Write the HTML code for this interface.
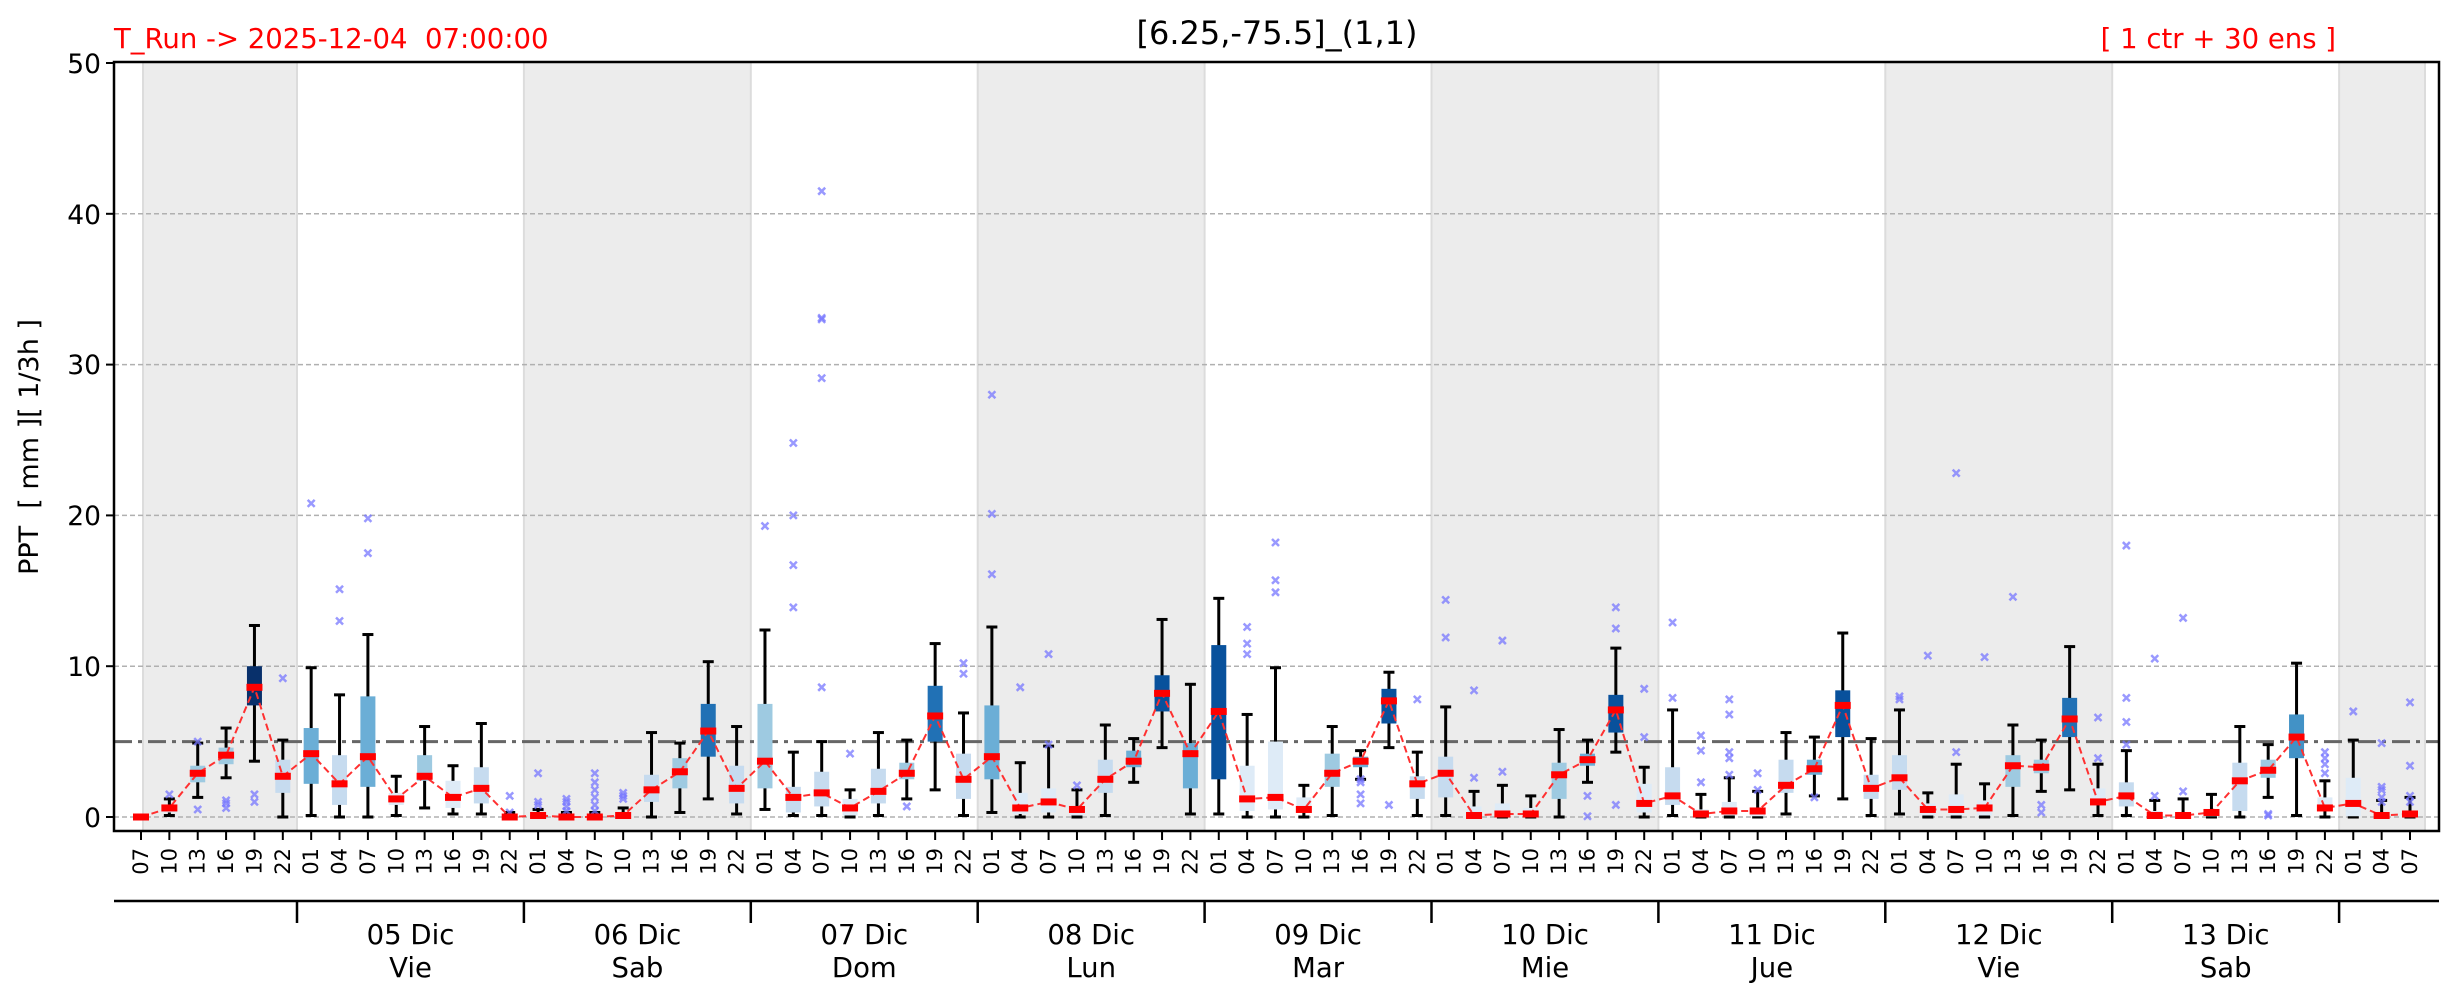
<!DOCTYPE html>
<html><head><meta charset="utf-8"><style>
html,body{margin:0;padding:0;background:#fff;}
svg{display:block;font-family:"DejaVu Sans","Liberation Sans",sans-serif;}
</style></head><body>
<svg id="s" width="2459" height="1001" viewBox="0 0 2459 1001" xmlns="http://www.w3.org/2000/svg">
<rect width="2459" height="1001" fill="#fff"/>
<g fill="#ececec">
<rect x="143" y="62" width="154" height="769"/>
<rect x="523.9" y="62" width="226.9" height="769"/>
<rect x="977.7" y="62" width="226.9" height="769"/>
<rect x="1431.5" y="62" width="226.9" height="769"/>
<rect x="1885.3" y="62" width="226.9" height="769"/>
<rect x="2339.1" y="62" width="86" height="769"/>
</g>
<g stroke="#dcdcdc" stroke-width="2">
<line x1="143" y1="62" x2="143" y2="831"/><line x1="297" y1="62" x2="297" y2="831"/>
<line x1="523.9" y1="62" x2="523.9" y2="831"/><line x1="750.8" y1="62" x2="750.8" y2="831"/>
<line x1="977.7" y1="62" x2="977.7" y2="831"/><line x1="1204.6" y1="62" x2="1204.6" y2="831"/>
<line x1="1431.5" y1="62" x2="1431.5" y2="831"/><line x1="1658.4" y1="62" x2="1658.4" y2="831"/>
<line x1="1885.3" y1="62" x2="1885.3" y2="831"/><line x1="2112.2" y1="62" x2="2112.2" y2="831"/>
<line x1="2339.1" y1="62" x2="2339.1" y2="831"/><line x1="2425" y1="62" x2="2425" y2="831"/>
</g>
<g stroke="#b0b0b0" stroke-width="1.5" stroke-dasharray="5,3">
<line x1="114" y1="817" x2="2439" y2="817"/>
<line x1="114" y1="666.2" x2="2439" y2="666.2"/>
<line x1="114" y1="515.4" x2="2439" y2="515.4"/>
<line x1="114" y1="364.6" x2="2439" y2="364.6"/>
<line x1="114" y1="213.8" x2="2439" y2="213.8"/>
</g>
<line x1="114" y1="741.6" x2="2439" y2="741.6" stroke="#666" stroke-width="3" stroke-dasharray="18,6,4,6"/>
<g id="boxes"></g>
<rect x="114" y="62" width="2325" height="769" fill="none" stroke="#000" stroke-width="2.5"/>
<g stroke="#000" stroke-width="2">
<line x1="106" y1="817" x2="114" y2="817"/><line x1="106" y1="666.2" x2="114" y2="666.2"/>
<line x1="106" y1="515.4" x2="114" y2="515.4"/><line x1="106" y1="364.6" x2="114" y2="364.6"/>
<line x1="106" y1="213.8" x2="114" y2="213.8"/><line x1="106" y1="63" x2="114" y2="63"/>
</g>
<g font-size="26.5" text-anchor="end" fill="#000">
<text x="101" y="827">0</text><text x="101" y="676">10</text><text x="101" y="525">20</text>
<text x="101" y="374">30</text><text x="101" y="224">40</text><text x="101" y="73">50</text>
</g>
<text transform="translate(38,447) rotate(-90)" text-anchor="middle" font-size="27">PPT &#160;[ mm ][ 1/3h ]</text>
<text x="1277" y="44" text-anchor="middle" font-size="32">[6.25,-75.5]_(1,1)</text>
<text x="114" y="48" font-size="27.5" fill="#ff0000">T_Run -&gt; 2025-12-04 &#160;07:00:00</text>
<text x="2336" y="48" text-anchor="end" font-size="27.5" fill="#ff0000">[ 1 ctr + 30 ens ]</text>
<g id="ticks" stroke="#000" stroke-width="2"></g>
<g font-size="21" text-anchor="end" dominant-baseline="central">
<text transform="translate(141,848) rotate(-90)">07</text><text transform="translate(169.4,848) rotate(-90)">10</text><text transform="translate(197.7,848) rotate(-90)">13</text><text transform="translate(226.1,848) rotate(-90)">16</text><text transform="translate(254.5,848) rotate(-90)">19</text><text transform="translate(282.8,848) rotate(-90)">22</text>
<text transform="translate(311.2,848) rotate(-90)">01</text><text transform="translate(339.5,848) rotate(-90)">04</text><text transform="translate(367.9,848) rotate(-90)">07</text><text transform="translate(396.3,848) rotate(-90)">10</text><text transform="translate(424.6,848) rotate(-90)">13</text><text transform="translate(453,848) rotate(-90)">16</text><text transform="translate(481.4,848) rotate(-90)">19</text><text transform="translate(509.7,848) rotate(-90)">22</text>
<text transform="translate(538.1,848) rotate(-90)">01</text><text transform="translate(566.4,848) rotate(-90)">04</text><text transform="translate(594.8,848) rotate(-90)">07</text><text transform="translate(623.2,848) rotate(-90)">10</text><text transform="translate(651.5,848) rotate(-90)">13</text><text transform="translate(679.9,848) rotate(-90)">16</text><text transform="translate(708.3,848) rotate(-90)">19</text><text transform="translate(736.6,848) rotate(-90)">22</text>
<text transform="translate(765,848) rotate(-90)">01</text><text transform="translate(793.3,848) rotate(-90)">04</text><text transform="translate(821.7,848) rotate(-90)">07</text><text transform="translate(850.1,848) rotate(-90)">10</text><text transform="translate(878.4,848) rotate(-90)">13</text><text transform="translate(906.8,848) rotate(-90)">16</text><text transform="translate(935.2,848) rotate(-90)">19</text><text transform="translate(963.5,848) rotate(-90)">22</text>
<text transform="translate(991.9,848) rotate(-90)">01</text><text transform="translate(1020.2,848) rotate(-90)">04</text><text transform="translate(1048.6,848) rotate(-90)">07</text><text transform="translate(1077,848) rotate(-90)">10</text><text transform="translate(1105.3,848) rotate(-90)">13</text><text transform="translate(1133.7,848) rotate(-90)">16</text><text transform="translate(1162.1,848) rotate(-90)">19</text><text transform="translate(1190.4,848) rotate(-90)">22</text>
<text transform="translate(1218.8,848) rotate(-90)">01</text><text transform="translate(1247.1,848) rotate(-90)">04</text><text transform="translate(1275.5,848) rotate(-90)">07</text><text transform="translate(1303.9,848) rotate(-90)">10</text><text transform="translate(1332.2,848) rotate(-90)">13</text><text transform="translate(1360.6,848) rotate(-90)">16</text><text transform="translate(1389,848) rotate(-90)">19</text><text transform="translate(1417.3,848) rotate(-90)">22</text>
<text transform="translate(1445.7,848) rotate(-90)">01</text><text transform="translate(1474,848) rotate(-90)">04</text><text transform="translate(1502.4,848) rotate(-90)">07</text><text transform="translate(1530.8,848) rotate(-90)">10</text><text transform="translate(1559.1,848) rotate(-90)">13</text><text transform="translate(1587.5,848) rotate(-90)">16</text><text transform="translate(1615.9,848) rotate(-90)">19</text><text transform="translate(1644.2,848) rotate(-90)">22</text>
<text transform="translate(1672.6,848) rotate(-90)">01</text><text transform="translate(1700.9,848) rotate(-90)">04</text><text transform="translate(1729.3,848) rotate(-90)">07</text><text transform="translate(1757.7,848) rotate(-90)">10</text><text transform="translate(1786,848) rotate(-90)">13</text><text transform="translate(1814.4,848) rotate(-90)">16</text><text transform="translate(1842.8,848) rotate(-90)">19</text><text transform="translate(1871.1,848) rotate(-90)">22</text>
<text transform="translate(1899.5,848) rotate(-90)">01</text><text transform="translate(1927.8,848) rotate(-90)">04</text><text transform="translate(1956.2,848) rotate(-90)">07</text><text transform="translate(1984.6,848) rotate(-90)">10</text><text transform="translate(2012.9,848) rotate(-90)">13</text><text transform="translate(2041.3,848) rotate(-90)">16</text><text transform="translate(2069.7,848) rotate(-90)">19</text><text transform="translate(2098,848) rotate(-90)">22</text>
<text transform="translate(2126.4,848) rotate(-90)">01</text><text transform="translate(2154.7,848) rotate(-90)">04</text><text transform="translate(2183.1,848) rotate(-90)">07</text><text transform="translate(2211.5,848) rotate(-90)">10</text><text transform="translate(2239.8,848) rotate(-90)">13</text><text transform="translate(2268.2,848) rotate(-90)">16</text><text transform="translate(2296.6,848) rotate(-90)">19</text><text transform="translate(2324.9,848) rotate(-90)">22</text>
<text transform="translate(2353.3,848) rotate(-90)">01</text><text transform="translate(2381.6,848) rotate(-90)">04</text><text transform="translate(2410,848) rotate(-90)">07</text>
</g>
<line x1="114" y1="901" x2="2439" y2="901" stroke="#000" stroke-width="2.5"/>
<g stroke="#000" stroke-width="2.5">
<line x1="297" y1="901" x2="297" y2="923"/><line x1="523.9" y1="901" x2="523.9" y2="923"/>
<line x1="750.8" y1="901" x2="750.8" y2="923"/><line x1="977.7" y1="901" x2="977.7" y2="923"/>
<line x1="1204.6" y1="901" x2="1204.6" y2="923"/><line x1="1431.5" y1="901" x2="1431.5" y2="923"/>
<line x1="1658.4" y1="901" x2="1658.4" y2="923"/><line x1="1885.3" y1="901" x2="1885.3" y2="923"/>
<line x1="2112.2" y1="901" x2="2112.2" y2="923"/><line x1="2339.1" y1="901" x2="2339.1" y2="923"/>
</g>
<g font-size="27.5" text-anchor="middle">
<text x="410.5" y="944">05 Dic</text><text x="410.5" y="977">Vie</text>
<text x="637.4" y="944">06 Dic</text><text x="637.4" y="977">Sab</text>
<text x="864.3" y="944">07 Dic</text><text x="864.3" y="977">Dom</text>
<text x="1091.2" y="944">08 Dic</text><text x="1091.2" y="977">Lun</text>
<text x="1318.1" y="944">09 Dic</text><text x="1318.1" y="977">Mar</text>
<text x="1545" y="944">10 Dic</text><text x="1545" y="977">Mie</text>
<text x="1771.9" y="944">11 Dic</text><text x="1771.9" y="977">Jue</text>
<text x="1998.8" y="944">12 Dic</text><text x="1998.8" y="977">Vie</text>
<text x="2225.7" y="944">13 Dic</text><text x="2225.7" y="977">Sab</text>
</g>
</svg>
<script>
var VL="#deebf7",L="#c6dbef",LM="#9ecae1",M="#6baed6",M2="#4292c6",D="#2171b5",DD="#08519c",N="#08306b";
var d=[
[0,0,0,0,0,VL,[]],
[0.1,0.3,0.6,0.8,1.2,VL,[1.5]],
[1.3,2.3,2.9,3.4,4.9,LM,[0.5,5.0]],
[2.6,3.5,4.1,4.6,5.9,LM,[0.6,0.9,1.1]],
[3.7,7.4,8.6,10.0,12.7,N,[1.0,1.5]],
[0,1.6,2.7,3.8,5.1,L,[9.2]],
[0.1,2.2,4.2,5.9,9.9,M,[20.8]],
[0,0.8,2.2,4.1,8.1,L,[13.0,15.1]],
[0,2.0,4.0,8.0,12.1,M,[17.5,19.8]],
[0.1,0.8,1.2,1.6,2.7,VL,[]],
[0.6,2.4,2.7,4.1,6.0,LM,[]],
[0.2,0.6,1.3,2.4,3.4,VL,[]],
[0.2,0.9,1.9,3.3,6.2,L,[]],
[0,0,0,0.1,0.3,VL,[0.3,1.4]],
[0,0,0.1,0.2,0.5,VL,[0.8,1.0,2.9]],
[0,0,0,0.1,0.3,VL,[0.4,0.7,1.0,1.2]],
[0,0,0,0.1,0.3,VL,[0.4,0.8,1.3,1.8,2.3,2.9]],
[0,0,0.1,0.2,0.6,VL,[1.2,1.4,1.6]],
[0,1.0,1.8,2.8,5.6,L,[]],
[0.3,1.9,3.0,3.9,4.9,LM,[]],
[1.2,4.0,5.7,7.5,10.3,D,[]],
[0.2,0.9,1.9,3.4,6.0,L,[]],
[0.5,1.9,3.7,7.5,12.4,LM,[19.3]],
[0.1,0.3,1.3,2.0,4.3,L,[13.9,16.7,20.0,24.8]],
[0.1,0.7,1.6,3.0,5.0,L,[8.6,29.1,33.0,33.1,41.5]],
[0,0.1,0.6,1.2,1.8,VL,[4.2]],
[0.1,0.9,1.7,3.2,5.6,L,[]],
[1.2,2.5,2.9,3.6,5.1,LM,[0.7]],
[1.8,5.0,6.7,8.7,11.5,D,[]],
[0.1,1.2,2.5,4.2,6.9,L,[9.5,10.2]],
[0.3,2.5,4.0,7.4,12.6,M,[16.1,20.1,28.0]],
[0,0.2,0.6,1.6,3.6,VL,[8.6]],
[0,0.3,1.0,1.9,4.7,VL,[4.8,10.8]],
[0,0.1,0.5,0.7,1.8,VL,[2.1]],
[0.1,1.6,2.5,3.8,6.1,L,[]],
[2.3,3.3,3.7,4.4,5.2,M,[]],
[4.6,7.0,8.2,9.4,13.1,DD,[]],
[0.2,1.9,4.2,4.9,8.8,M,[]],
[0.2,2.5,7.0,11.4,14.5,DD,[]],
[0,0.4,1.2,3.4,6.8,VL,[10.8,11.5,12.6]],
[0,0.5,1.3,5.0,9.9,VL,[14.9,15.7,18.2]],
[0,0.3,0.5,1.3,2.1,VL,[]],
[0.1,2.0,2.9,4.2,6.0,LM,[]],
[2.5,3.3,3.7,4.0,4.4,M,[0.9,1.5,2.3,2.5]],
[4.6,6.2,7.7,8.5,9.6,DD,[0.8]],
[0.1,1.2,2.2,2.7,4.3,L,[7.8]],
[0.1,1.3,2.9,4.0,7.3,L,[11.9,14.4]],
[0,0.05,0.1,0.7,1.7,VL,[2.6,8.4]],
[0,0.05,0.2,0.9,2.1,VL,[3.0,11.7]],
[0,0.05,0.2,0.6,1.4,VL,[]],
[0,1.2,2.8,3.6,5.8,LM,[]],
[2.3,3.4,3.8,4.2,5.1,M,[0.05,1.4]],
[4.3,5.6,7.1,8.1,11.2,DD,[0.8,12.5,13.9]],
[0,0.3,0.9,2.2,3.3,VL,[5.3,8.5]],
[0.1,0.8,1.4,3.3,7.1,L,[7.9,12.9]],
[0,0.05,0.2,0.5,1.5,VL,[2.3,4.4,5.4]],
[0,0.1,0.4,1.0,2.6,VL,[2.8,3.9,4.3,6.8,7.8]],
[0,0.05,0.4,0.6,1.7,VL,[1.8,2.9]],
[0.2,1.6,2.1,3.8,5.6,L,[]],
[1.4,2.8,3.2,3.8,5.3,M,[1.3]],
[1.2,5.3,7.4,8.4,12.2,DD,[]],
[0.1,1.2,1.9,2.8,5.2,L,[]],
[0.2,1.8,2.6,4.1,7.1,L,[7.8,8.0]],
[0,0.1,0.5,0.9,1.6,VL,[10.7]],
[0,0.1,0.5,1.5,3.5,VL,[4.3,22.8]],
[0,0.1,0.6,1.1,2.2,VL,[10.6]],
[0.1,2.0,3.4,4.1,6.1,LM,[14.6]],
[1.7,2.9,3.3,3.8,5.1,LM,[0.3,0.8]],
[1.8,5.3,6.5,7.9,11.3,D,[]],
[0.1,0.8,1.0,1.9,3.5,VL,[3.9,6.6]],
[0.1,0.7,1.4,2.3,4.4,L,[4.8,6.3,7.9,18.0]],
[0,0.05,0.1,0.4,1.1,VL,[1.4,10.5]],
[0,0.05,0.1,0.3,1.2,VL,[1.7,13.2]],
[0,0.05,0.3,0.5,1.5,VL,[]],
[0,0.4,2.4,3.6,6.0,L,[]],
[1.3,2.6,3.1,3.8,4.8,LM,[0.1,0.2]],
[0.1,3.9,5.3,6.8,10.2,M2,[]],
[0,0.4,0.6,1.3,2.4,VL,[2.9,3.5,3.9,4.3]],
[0,0.05,0.9,2.6,5.1,VL,[7.0]],
[0,0,0.1,0.3,1.1,VL,[1.0,1.3,1.8,2.0,4.9]],
[0,0,0.2,0.4,1.3,VL,[1.0,1.4,3.4,7.6]]
];
function y(v){return 817-15.08*v;}
function X(i){return 141+28.3625*i;}
var g=document.getElementById("boxes"),h="";
var pts=[];
d.forEach(function(b,i){
 var x=X(i),bw=15,cw=11;
 h+='<line x1="'+x+'" y1="'+y(b[0])+'" x2="'+x+'" y2="'+y(b[4])+'" stroke="#000" stroke-width="3"/>';
 h+='<line x1="'+(x-cw/2)+'" y1="'+y(b[0])+'" x2="'+(x+cw/2)+'" y2="'+y(b[0])+'" stroke="#000" stroke-width="3"/>';
 h+='<line x1="'+(x-cw/2)+'" y1="'+y(b[4])+'" x2="'+(x+cw/2)+'" y2="'+y(b[4])+'" stroke="#000" stroke-width="3"/>';
 var t=y(b[3]),bt=y(b[1]);
 h+='<rect x="'+(x-bw/2)+'" y="'+t+'" width="'+bw+'" height="'+Math.max(bt-t,1)+'" fill="'+b[5]+'"/>';
 b[6].forEach(function(o){var oy=y(o);
  h+='<path d="M'+(x-3.5)+' '+(oy-3.5)+'L'+(x+3.5)+' '+(oy+3.5)+'M'+(x-3.5)+' '+(oy+3.5)+'L'+(x+3.5)+' '+(oy-3.5)+'" stroke="#7777ff" stroke-opacity="0.75" stroke-width="2.5"/>';});
 pts.push(x+','+y(b[2]));
});
h+='<polyline points="'+pts.join(' ')+'" fill="none" stroke="#ff3030" stroke-width="2" stroke-dasharray="7,4"/>';
d.forEach(function(b,i){var x=X(i);
 h+='<rect x="'+(x-8)+'" y="'+(y(b[2])-3.5)+'" width="16" height="7" fill="#ff0000"/>';});
g.innerHTML=h;
var tk="";for(var i=0;i<81;i++){tk+='<line x1="'+X(i)+'" y1="831" x2="'+X(i)+'" y2="840"/>';}
document.getElementById("ticks").innerHTML=tk;
</script>
</body></html>
